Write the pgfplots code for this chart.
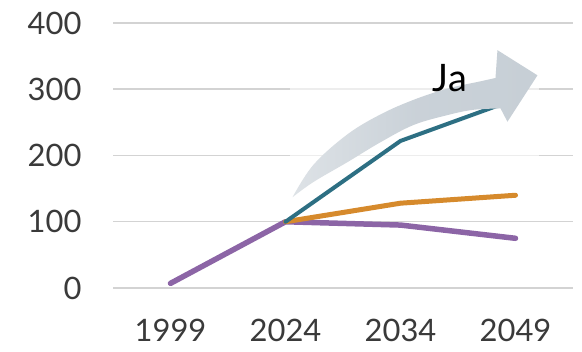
\documentclass[border=0pt]{standalone}
\usepackage{fontspec}
\setmainfont{Lato}
\usepackage{pgfplots}
\pgfplotsset{compat=1.18}
\definecolor{ticktext}{HTML}{3A3A3A}
\definecolor{gridgray}{HTML}{D3D3D3}
\definecolor{cpurple}{HTML}{8C65A6}
\definecolor{corange}{HTML}{D68A2C}
\definecolor{cteal}{HTML}{2D6F83}
\definecolor{arrowgray}{HTML}{C7CFD6}
\begin{document}
\begin{tikzpicture}
\begin{axis}[
  at={(113bp,64bp)}, anchor=south west,
  scale only axis, width=460bp, height=265bp,
  xmin=-0.5, xmax=3.5, ymin=0, ymax=400,
  xtick={0,1,2,3}, xticklabels={1999,2024,2034,2049},
  ytick={0,100,200,300,400},
  ymajorgrids,
  major grid style={color=gridgray, line width=1.5bp},
  axis line style={draw=none},
  tick style={draw=none},
  ticklabel style={font=\fontsize{31}{31}\selectfont, text=ticktext},
  /pgf/number format/assume math mode=true,
  yticklabel style={xshift=-28bp},
  xticklabel style={yshift=-28bp},
  set layers, clip=false,
]
\begin{pgfonlayer}{pre main}
\fill[white, opacity=0.6] (axis cs:1.04,125) rectangle (axis cs:3.2,366);
\end{pgfonlayer}
\addplot[cpurple, line width=5.5bp, line join=round, line cap=round] coordinates {(0,7) (1,100) (2,95) (3,75)};
\addplot[corange, line width=5bp, line join=round, line cap=round] coordinates {(1,100) (2,128) (3,140)};
\addplot[cteal, line width=4bp, line join=round, line cap=round] coordinates {(1,100) (2,222) (3,285)};
\shade[left color=arrowgray!60, right color=arrowgray, middle color=arrowgray!95]
  plot[smooth, tension=0.6] coordinates {(axis cs:1.061,137) (axis cs:1.243,186) (axis cs:1.539,232) (axis cs:1.826,262) (axis cs:2.113,284) (axis cs:2.409,301) (axis cs:2.696,312) (axis cs:2.826,317)}
  -- (axis cs:2.843,359) -- (axis cs:3.191,321) -- (axis cs:2.93,251)
  -- plot[smooth, tension=0.6] coordinates {(axis cs:2.87,271) (axis cs:2.635,269) (axis cs:2.409,261) (axis cs:2.113,246) (axis cs:1.826,220) (axis cs:1.539,190) (axis cs:1.243,160) (axis cs:1.061,137)}
  -- cycle;
\node[font=\fontsize{38}{38}\selectfont, text=black, anchor=base] at (axis cs:2.43,296) {Ja};
\end{axis}
\pgfresetboundingbox
\useasboundingbox (0bp,0bp) rectangle (582bp,352bp);
\end{tikzpicture}
\end{document}
